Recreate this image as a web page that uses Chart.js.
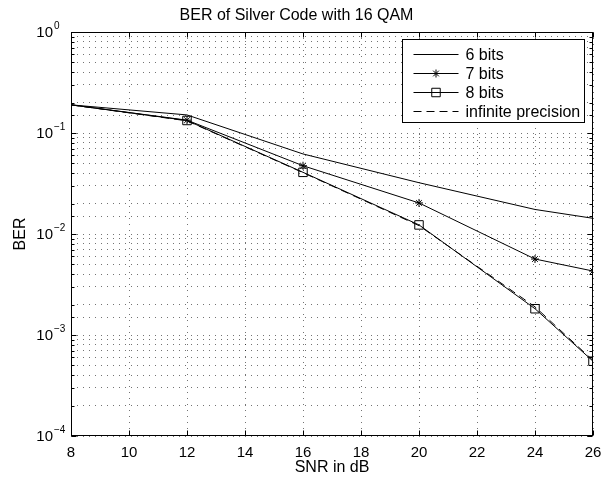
<!DOCTYPE html>
<html><head><meta charset="utf-8">
<script src="https://cdn.jsdelivr.net/npm/chart.js@4/dist/chart.umd.min.js"></script>
<style>html,body{margin:0;padding:0;background:#fff}#wrap{width:615px;height:479px}</style>
</head><body><div id="wrap"><canvas id="c" width="615" height="479"></canvas></div>
<script>
// ---- data ----
const snrDb   = [8, 12, 16, 20, 24, 26];
const ber6    = [0.19, 0.151, 0.062, 0.0322, 0.0175, 0.0143];
const ber7    = [0.19, 0.134, 0.0474, 0.0203, 0.00565, 0.0043];
const ber8    = [0.19, 0.133, 0.0408, 0.0123, 0.00182, 0.00055];
const berInf  = [0.19, 0.132, 0.0405, 0.0121, 0.0019, 0.00056];
const seriesLabels = ['6 bits', '7 bits', '8 bits', 'infinite precision'];
const xTickValues = [8, 10, 12, 14, 16, 18, 20, 22, 24, 26];
const yDecades = [1, 0.1, 0.01, 0.001, 0.0001];
const titleText = 'BER of Silver Code with 16 QAM';
const xTitle = 'SNR in dB';
const yTitle = 'BER';

const FONT = "'Liberation Sans', Arial, Helvetica, sans-serif";
const toPts = ys => snrDb.map((x, i) => ({x, y: ys[i]}));
const isDecade = v => { const l = Math.log10(v); return Math.abs(l - Math.round(l)) < 1e-9; };

const styles = [
  {pointStyle: false, radius: 0, dash: []},
  {pointStyle: 'star', radius: 4, dash: []},
  {pointStyle: 'rect', radius: 6, dash: []},
  {pointStyle: false, radius: 0, dash: [8, 5]}
];
const values = [ber6, ber7, ber8, berInf];

const datasets = values.map((v, i) => ({
  label: seriesLabels[i],
  data: toPts(v),
  borderColor: '#000',
  backgroundColor: 'transparent',
  borderWidth: 1,
  borderDash: styles[i].dash,
  pointStyle: styles[i].pointStyle || 'circle',
  pointRadius: c => (styles[i].radius && c.dataIndex > 0) ? styles[i].radius : 0,
  pointHoverRadius: 0,
  pointBorderColor: '#000',
  pointBackgroundColor: 'transparent',
  pointBorderWidth: 1,
  tension: 0,
  fill: false
}));

function marker(ctx, style, r, x, y) {
  ctx.beginPath();
  if (style === 'star') {
    ctx.moveTo(x - r, y); ctx.lineTo(x + r, y);
    ctx.moveTo(x, y - r); ctx.lineTo(x, y + r);
    const d = r * Math.SQRT1_2;
    ctx.moveTo(x - d, y - d); ctx.lineTo(x + d, y + d);
    ctx.moveTo(x - d, y + d); ctx.lineTo(x + d, y - d);
  } else if (style === 'rect') {
    const s = r * Math.SQRT1_2;
    ctx.rect(x - s, y - s, 2 * s, 2 * s);
  }
  ctx.stroke();
}

const framePlugin = {
  id: 'frameLegend',
  afterDraw(chart) {
    const ctx = chart.ctx, a = chart.chartArea;
    const xs = chart.scales.x, ys = chart.scales.y;
    ctx.save();
    ctx.strokeStyle = '#000'; ctx.lineWidth = 1; ctx.setLineDash([]);
    const L = Math.round(a.left) + 0.5, R = Math.round(a.right) - 0.5;
    const T = Math.round(a.top) + 0.5, B = Math.round(a.bottom) - 0.5;
    ctx.strokeRect(L, T, R - L, B - T);
    ctx.beginPath();
    xs.ticks.forEach(t => {
      const px = Math.round(xs.getPixelForValue(t.value)) + 0.5;
      ctx.moveTo(px, B); ctx.lineTo(px, B - 5);
      ctx.moveTo(px, T); ctx.lineTo(px, T + 5);
    });
    ys.ticks.forEach(t => {
      const py = Math.round(ys.getPixelForValue(t.value)) + 0.5;
      const len = isDecade(t.value) ? 5 : 3;
      ctx.moveTo(L, py); ctx.lineTo(L + len, py);
      ctx.moveTo(R, py); ctx.lineTo(R - len, py);
    });
    ctx.stroke();

    // y tick labels: 10 with raised exponent
    ctx.fillStyle = '#000';
    ctx.textBaseline = 'middle';
    yDecades.forEach(v => {
      const py = ys.getPixelForValue(v);
      const e = Math.round(Math.log10(v));
      const expStr = e < 0 ? '\u2212' + String(-e) : String(e);
      ctx.font = '15px ' + FONT;
      ctx.textAlign = 'right';
      ctx.fillText('10', a.left - 18, py + 1);
      ctx.font = '10px ' + FONT;
      ctx.textAlign = 'left';
      ctx.fillText(expStr, a.left - 17, py - 6);
    });

    // legend box inside plot, top-right
    const bw = 182, bh = 83;
    const bx = Math.round(a.right - 191) + 0.5, by = Math.round(a.top + 7) + 0.5;
    ctx.fillStyle = '#fff';
    ctx.fillRect(bx, by, bw, bh);
    ctx.strokeRect(bx, by, bw, bh);
    ctx.font = '16px ' + FONT;
    ctx.textBaseline = 'middle';
    ctx.textAlign = 'left';
    chart.data.datasets.forEach((ds, i) => {
      const yy = Math.round(by + 14 + i * 19) + 0.5;
      ctx.beginPath();
      ctx.setLineDash(ds.borderDash || []);
      ctx.moveTo(bx + 11, yy); ctx.lineTo(bx + 56, yy);
      ctx.stroke();
      ctx.setLineDash([]);
      if (styles[i].pointStyle) marker(ctx, styles[i].pointStyle, styles[i].radius, bx + 33.5, yy);
      ctx.fillStyle = '#000';
      ctx.fillText(ds.label, bx + 63, yy + 1);
    });
    ctx.restore();
  }
};

new Chart(document.getElementById('c'), {
  type: 'line',
  data: {datasets},
  plugins: [framePlugin],
  options: {
    responsive: false,
    devicePixelRatio: 1,
    animation: false,
    layout: {padding: {left: 0, right: 22, top: 0, bottom: 0}},
    plugins: {
      legend: {display: false},
      tooltip: {enabled: false},
      title: {
        display: true, text: titleText, color: '#000',
        font: {family: FONT, size: 16, weight: 'normal'},
        padding: {top: 6, bottom: 6.8}
      }
    },
    scales: {
      x: {
        type: 'linear', min: 8, max: 26,
        afterBuildTicks: s => { s.ticks = xTickValues.map(v => ({value: v})); },
        afterFit: s => { s.height = 43; },
        ticks: {color: '#000', font: {family: FONT, size: 15}, padding: 8, maxRotation: 0, autoSkip: false,
                callback: v => String(v)},
        grid: {color: 'rgba(0,0,0,0.55)', lineWidth: 1, drawTicks: false},
        border: {display: false, dash: [1, 5]},
        title: {display: true, text: xTitle, color: '#000', font: {family: FONT, size: 16}, padding: {top: 0, bottom: 2}}
      },
      y: {
        type: 'logarithmic', min: 1e-4, max: 1,
        afterFit: s => { s.width = 71; },
        ticks: {display: false, autoSkip: false},
        grid: {color: 'rgba(0,0,0,0.55)', lineWidth: 1, drawTicks: false},
        border: {display: false, dash: [1, 5]},
        title: {display: true, text: yTitle, color: '#000', font: {family: FONT, size: 16}, padding: {top: 11, bottom: 0}}
      }
    }
  }
});
</script>
</body></html>
